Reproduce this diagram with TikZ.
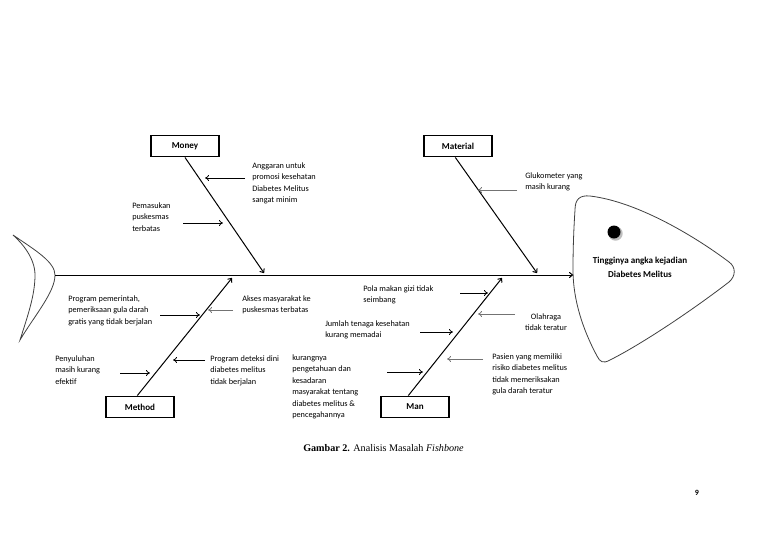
\documentclass[tikz,border=0pt]{standalone}
\usepackage{fontspec}
\setmainfont{Carlito}
\newfontfamily\capfont{Liberation Serif}
\usetikzlibrary{arrows.meta,calc}
\tikzset{
  lbl/.style={anchor=north west, inner sep=0pt, align=left, font=\fontsize{6.2}{8.6}\selectfont},
  catbox/.style={draw, line width=1.2pt, minimum width=51pt, minimum height=16pt, inner sep=0pt, font=\bfseries\fontsize{6.8}{8}\selectfont},
  bone/.style={line width=0.75pt, -{To[length=3pt,width=4.5pt]}},
  sub/.style={line width=0.6pt, -{To[length=3pt,width=4.5pt]}},
  subg/.style={sub, draw=black!55},
  outline/.style={draw=black!75, line width=0.6pt}
}
\begin{document}
\begin{tikzpicture}[x=0.75pt, y=-0.75pt]
\useasboundingbox (0,0) rectangle (768,543);
% head
\path[outline] (575,210) .. controls (575,199) and (580,195) .. (590,196)
  .. controls (640,202) and (700,240) .. (729,262)
  .. controls (736,267) and (736,276) .. (729,282)
  .. controls (690,312) and (640,345) .. (610,360)
  .. controls (603,364) and (600,362) .. (597,356)
  .. controls (583,330) and (573,300) .. (573,270)
  .. controls (573,245) and (574,225) .. (575,210) -- cycle;
\fill[black!25] (615.5,233.5) circle (7.2);
\fill[black] (614,232) circle (6.5);
\node[inner sep=0pt, align=center, font=\bfseries\fontsize{6.8}{10.3}\selectfont] (effect) at (640,267) {Tingginya angka kejadian\\Diabetes Melitus};
% tail
\path[outline] (13,235) .. controls (35,250) and (55,262) .. (55,275)
  .. controls (55,292) and (35,315) .. (20,340)
  .. controls (28,315) and (35,295) .. (35,275)
  .. controls (35,258) and (22,243) .. (13,235) -- cycle;
% spine
\coordinate (tailapex) at (55,275);
\coordinate (headin) at (573,275);
\draw[bone] (tailapex) -- (headin);
% category boxes
\node[catbox] (money) at (185,146) {Money};
\node[catbox] (material) at (458,146) {Material};
\node[catbox] (method) at (140,407) {Method};
\node[catbox] (man) at (415,407) {Man};
% bones
\coordinate (moneyend) at (264,273);
\coordinate (materialend) at (537,273);
\coordinate (methodend) at (232,278);
\coordinate (manend) at (502,278);
\draw[bone] (money.south) -- (moneyend);
\draw[bone] ([xshift=-2pt]material.south) -- (materialend);
\draw[bone] ([xshift=-2pt]method.north) -- (methodend);
\draw[bone] ([xshift=-5pt]man.north) -- (manend);
% labels
\node[lbl] (t1) at (252,162.5) {Anggaran untuk\\promosi kesehatan\\Diabetes Melitus\\sangat minim};
\node[lbl] (t2) at (132,202.5) {Pemasukan\\puskesmas\\terbatas};
\node[lbl] (t3) at (525,172.5) {Glukometer yang\\masih kurang};
\node[lbl] (t4) at (68,295.5) {Program pemerintah,\\pemeriksaan gula darah\\gratis yang tidak berjalan};
\node[lbl] (t5) at (242,295.5) {Akses masyarakat ke\\puskesmas terbatas};
\node[lbl] (t6) at (55,355.5) {Penyuluhan\\masih kurang\\efektif};
\node[lbl] (t7) at (210,355.5) {Program deteksi dini\\diabetes melitus\\tidak berjalan};
\node[lbl] (t8) at (363,285.5) {Pola makan gizi tidak\\seimbang};
\node[lbl, align=center, anchor=north] (t9) at (546,313.5) {Olahraga\\tidak teratur};
\node[lbl] (t10) at (325,320.5) {Jumlah tenaga kesehatan\\kurang memadai};
\node[lbl] (t11) at (292,354.5) {kurangnya\\pengetahuan dan\\kesadaran\\masyarakat tentang\\diabetes melitus \&\\pencegahannya};
\node[lbl] (t12) at (492,353.5) {Pasien yang memiliki\\risiko diabetes melitus\\tidak memeriksakan\\gula darah teratur};
% sub-cause arrows
\draw[sub] (245,178) coordinate (a1s) -- (205,178) coordinate (a1e);
\draw[sub] (183,223) coordinate (a2s) -- (223,223) coordinate (a2e);
\draw[subg] (517,190) coordinate (a3s) -- (478,190) coordinate (a3e);
\draw[sub] (160,315) coordinate (a4s) -- (200,315) coordinate (a4e);
\draw[subg] (233,310) coordinate (a5s) -- (208,310) coordinate (a5e);
\draw[sub] (120,373) coordinate (a6s) -- (150,373) coordinate (a6e);
\draw[sub] (205,360) coordinate (a7s) -- (173,360) coordinate (a7e);
\draw[sub] (460,293) coordinate (a8s) -- (488,293) coordinate (a8e);
\draw[subg] (515,314) coordinate (a9s) -- (478,314) coordinate (a9e);
\draw[sub] (420,332) coordinate (a10s) -- (453,332) coordinate (a10e);
\draw[sub] (387,372) coordinate (a11s) -- (423,372) coordinate (a11e);
\draw[subg] (483,359) coordinate (a12s) -- (447,359) coordinate (a12e);
% caption and page number
\node[inner sep=0pt, font=\capfont\fontsize{7.6}{9}\selectfont] (caption) at (383.5,448) {\textbf{Gambar 2.} Analisis Masalah \textit{Fishbone}};
\node[inner sep=0pt, font=\bfseries\fontsize{6}{7}\selectfont] (pageno) at (697,493) {9};
\end{tikzpicture}
\end{document}
